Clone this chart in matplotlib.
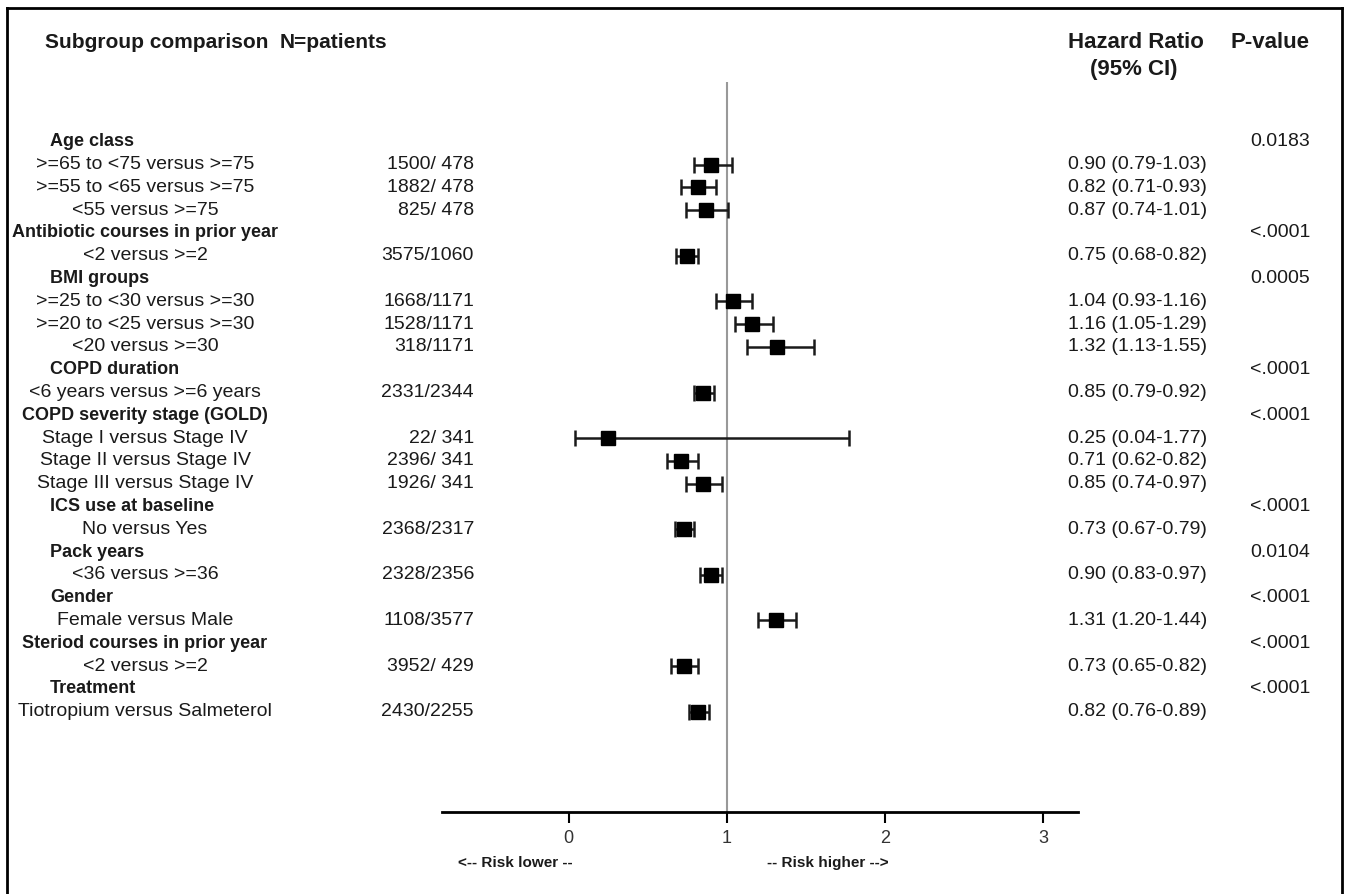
import numpy as np
import matplotlib
matplotlib.use('Agg')
import matplotlib.pyplot as plt
import matplotlib.transforms as mtrans
from matplotlib.lines import Line2D

plt.rcParams['font.family'] = ['Liberation Sans', 'DejaVu Sans']

# data
groups = ["Age class", "Antibiotic courses in prior year", "BMI groups", "COPD duration",
          "COPD severity stage (GOLD)", "ICS use at baseline", "Pack years", "Gender",
          "Steriod courses in prior year", "Treatment"]
group_p = ["0.0183", "<.0001", "0.0005", "<.0001", "<.0001", "<.0001", "0.0104", "<.0001", "<.0001", "<.0001"]
group_sizes = [3, 1, 3, 1, 3, 1, 1, 1, 1, 1]

sub_labels = [">=65 to <75 versus >=75", ">=55 to <65 versus >=75", "<55 versus >=75",
              "<2 versus >=2",
              ">=25 to <30 versus >=30", ">=20 to <25 versus >=30", "<20 versus >=30",
              "<6 years versus >=6 years",
              "Stage I versus Stage IV", "Stage II versus Stage IV", "Stage III versus Stage IV",
              "No versus Yes",
              "<36 versus >=36",
              "Female versus Male",
              "<2 versus >=2",
              "Tiotropium versus Salmeterol"]
n_patients = ["1500/ 478", "1882/ 478", "825/ 478",
              "3575/1060",
              "1668/1171", "1528/1171", "318/1171",
              "2331/2344",
              "22/ 341", "2396/ 341", "1926/ 341",
              "2368/2317",
              "2328/2356",
              "1108/3577",
              "3952/ 429",
              "2430/2255"]
hr = [0.90, 0.82, 0.87, 0.75, 1.04, 1.16, 1.32, 0.85, 0.25, 0.71, 0.85, 0.73, 0.90, 1.31, 0.73, 0.82]
ci_lo = [0.79, 0.71, 0.74, 0.68, 0.93, 1.05, 1.13, 0.79, 0.04, 0.62, 0.74, 0.67, 0.83, 1.20, 0.65, 0.76]
ci_hi = [1.03, 0.93, 1.01, 0.82, 1.16, 1.29, 1.55, 0.92, 1.77, 0.82, 0.97, 0.79, 0.97, 1.44, 0.82, 0.89]
xticks = [0, 1, 2, 3]

W, H = 1348, 894
fig = plt.figure(figsize=(W / 100, H / 100), dpi=100)
ax = fig.add_axes([442 / W, 1 - 812 / H, 636 / W, 730 / H])

# row positions
grp_rows = []
sub_rows = []
r = 0
for g, n in enumerate(group_sizes):
    grp_rows.append(r)
    r += 1
    for k in range(n):
        sub_rows.append(r)
        r += 1
grp_rows = np.array(grp_rows)
sub_rows = np.array(sub_rows)
hr = np.array(hr)
ci_lo = np.array(ci_lo)
ci_hi = np.array(ci_hi)

ax.axvline(1, color='#999999', lw=1.5, zorder=1)
ax.errorbar(hr, sub_rows, xerr=[hr - ci_lo, ci_hi - hr], fmt='s', color='black',
            ecolor='#1a1a1a', elinewidth=1.8, capsize=6, capthick=1.8,
            markersize=10, zorder=3)

ax.set_xlim(-0.80, 3.22)
ax.set_ylim(29.4, -2.62)
ax.set_xticks(xticks)
ax.set_yticks([])
for s in ['top', 'left', 'right']:
    ax.spines[s].set_visible(False)
ax.spines['bottom'].set_linewidth(2)
ax.tick_params(axis='x', direction='out', length=8, width=1.5, labelsize=13,
               labelcolor='#333333', pad=5)

tc = '#1a1a1a'
fs = 14
tr = mtrans.blended_transform_factory(fig.transFigure, ax.transData)
fig.canvas.draw()
renderer = fig.canvas.get_renderer()

# group headers
for g, row in enumerate(grp_rows):
    t = fig.text(0, row, groups[g], transform=tr, fontsize=13, fontweight='bold',
                 color=tc, va='center', ha='left')
    w = t.get_window_extent(renderer).width
    t.set_x(min(50, 145 - w / 2) / W)
    fig.text(1310 / W, row, group_p[g], transform=tr, fontsize=fs, color=tc,
             va='center', ha='right')

# subgroup rows
for i, row in enumerate(sub_rows):
    fig.text(145 / W, row, sub_labels[i], transform=tr, fontsize=fs, color=tc,
             va='center', ha='center')
    fig.text(474 / W, row, n_patients[i], transform=tr, fontsize=fs, color=tc,
             va='center', ha='right')
    fig.text(1068 / W, row, f"{hr[i]:.2f} ({ci_lo[i]:.2f}-{ci_hi[i]:.2f})", transform=tr,
             fontsize=fs, color=tc, va='center', ha='left')

# column headers
hy = 1 - 43 / H
fig.text(45 / W, hy, "Subgroup comparison", fontsize=15, fontweight='bold', color=tc, va='center')
fig.text(280 / W, hy, "N=patients", fontsize=15, fontweight='bold', color=tc, va='center')
fig.text(1068 / W, hy, "Hazard Ratio", fontsize=16, fontweight='bold', color=tc, va='center')
fig.text(1310 / W, hy, "P-value", fontsize=16, fontweight='bold', color=tc, va='center', ha='right')
fig.text(1090 / W, 1 - 70 / H, "(95% CI)", fontsize=16, fontweight='bold', color=tc, va='center')

# risk direction labels
tr2 = mtrans.blended_transform_factory(ax.transData, fig.transFigure)
fig.text(-0.335, 1 - 863 / H, "<-- Risk lower --", transform=tr2, fontsize=11, fontweight='bold',
         color=tc, va='center', ha='center')
fig.text(1.64, 1 - 863 / H, "-- Risk higher -->", transform=tr2, fontsize=11, fontweight='bold',
         color=tc, va='center', ha='center')

# frame
for xs, ys in [([7 / W, 7 / W], [-0.01, 1 - 8 / H]),
               ([7 / W, 1342 / W], [1 - 8 / H, 1 - 8 / H]),
               ([1342 / W, 1342 / W], [1 - 8 / H, -0.01])]:
    fig.add_artist(Line2D(xs, ys, transform=fig.transFigure, color='black', lw=2))

fig.savefig('out.png', dpi=100)
